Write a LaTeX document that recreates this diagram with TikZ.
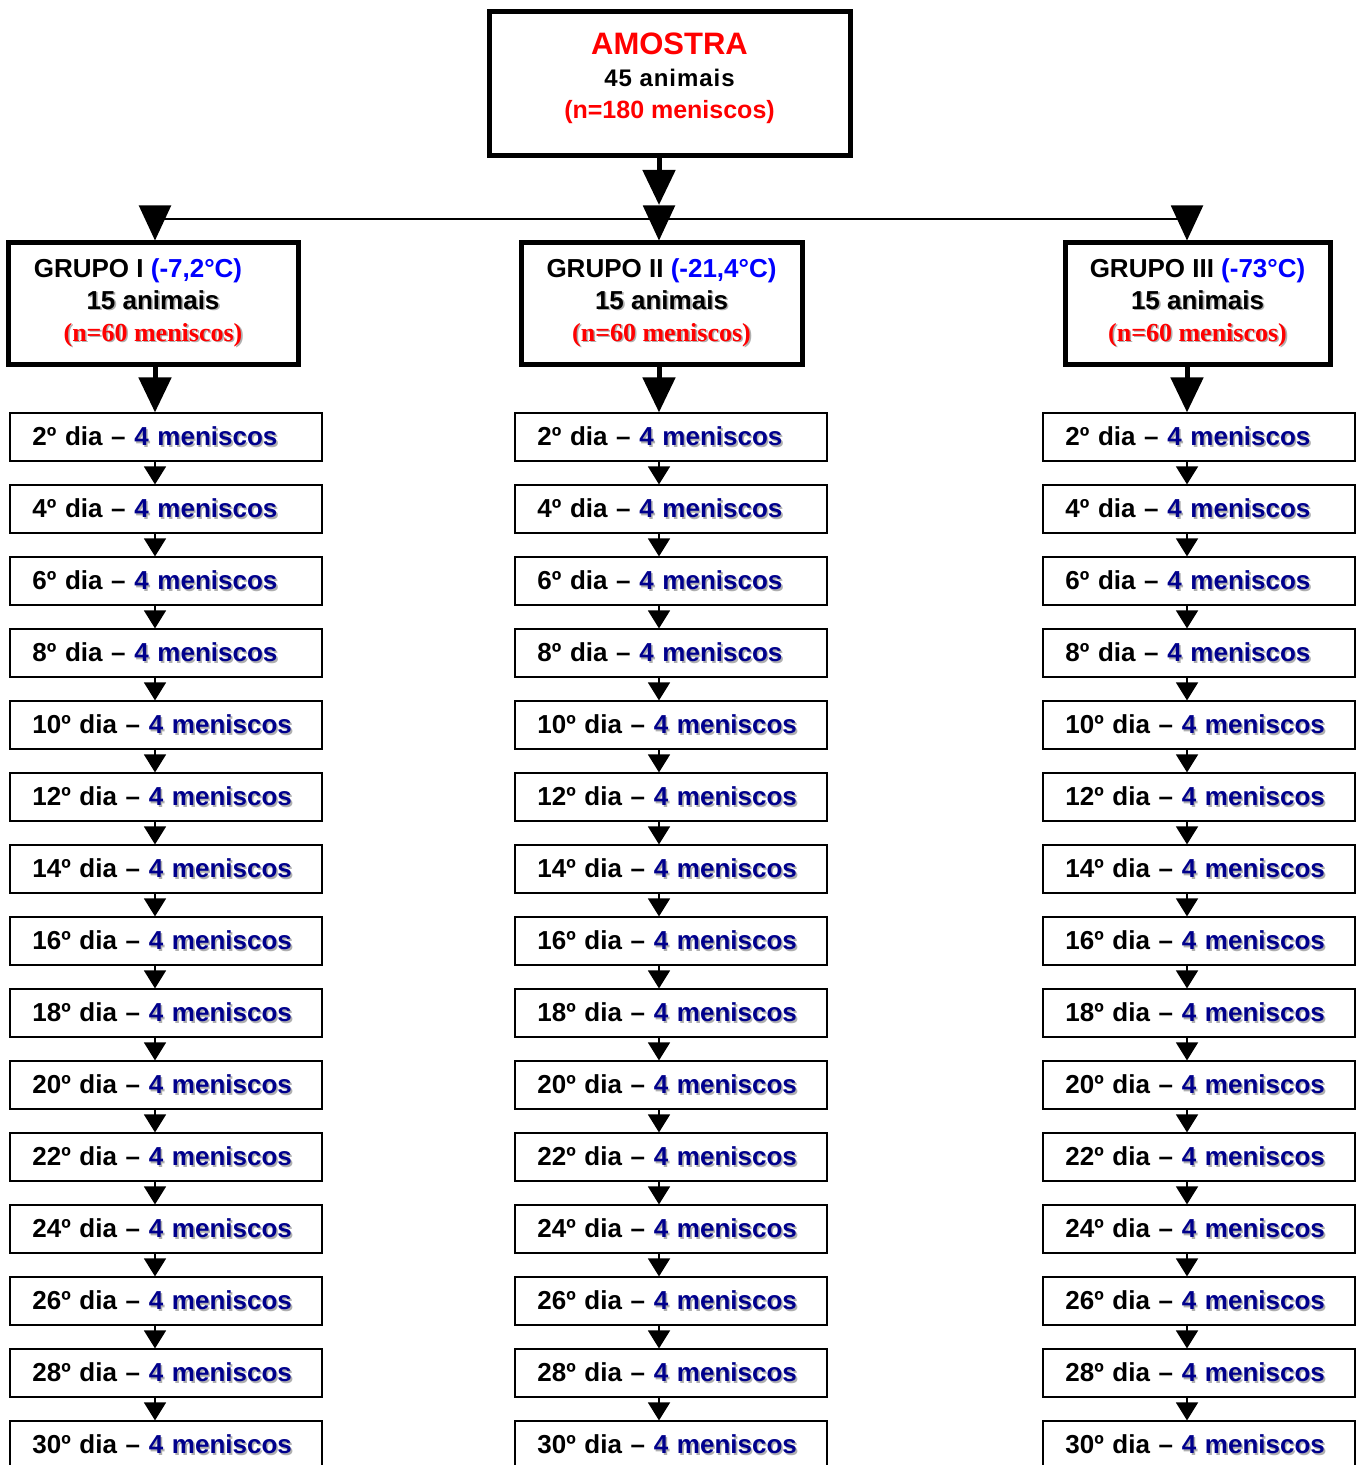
\documentclass[tikz,border=0pt]{standalone}
\usepackage{fontspec}
\setmainfont{Liberation Sans}
\newfontfamily\serifrm{Liberation Serif}
\usetikzlibrary{matrix,arrows.meta}

\definecolor{redtxt}{RGB}{255,0,0}
\definecolor{bluetxt}{RGB}{0,0,255}
\definecolor{navytxt}{RGB}{0,0,140}
\definecolor{shadowtxt}{RGB}{175,175,175}

\newcommand{\sombra}[2]{\rlap{\kern0.8pt\raisebox{-0.8pt}{\textcolor{shadowtxt}{#2}}}\textcolor{#1}{#2}}
\newcommand{\dia}[1]{#1º dia – \sombra{navytxt}{4 meniscos}}

\tikzset{
  bigbox/.style={draw, line width=2.5pt, align=center, inner sep=0pt, font=\bfseries\fontsize{13pt}{16pt}\selectfont},
  bigarrow/.style={-{Triangle[length=17.5pt,width=16pt]}, line width=2.5pt},
  smallarrow/.style={-{Triangle[length=9pt,width=11pt]}, line width=0.8pt}
}

\begin{document}
\begin{tikzpicture}[x=0.5pt, y=-0.5pt]
  \useasboundingbox (0,0) rectangle (1360,1465);
  \clip (0,0) rectangle (1360,1465);

  \node[bigbox, minimum width=180.5pt, minimum height=72pt] (amostra) at (669.5,84)
    {{\fontsize{15.5pt}{17pt}\selectfont\textcolor{redtxt}{AMOSTRA}}\\[0pt]
     {\fontsize{12pt}{16pt}\selectfont\addfontfeature{LetterSpace=4}45 animais}\\[0pt]
     {\fontsize{12.5pt}{16pt}\selectfont\textcolor{redtxt}{(n=180 meniscos)}}\\[-8pt]};

  \node[bigbox, minimum width=145pt, minimum height=60.5pt] (grupoI) at (153,303.5)
    {\hspace*{-15pt}GRUPO I \textcolor{bluetxt}{(-7,2°C)}\\ \sombra{black}{15 animais}\\ {\serifrm\sombra{redtxt}{(n=60 meniscos)}}};
  \node[bigbox, minimum width=140.5pt, minimum height=60.5pt] (grupoII) at (661.5,303.5)
    {GRUPO II \textcolor{bluetxt}{(-21,4°C)}\\ \sombra{black}{15 animais}\\ {\serifrm\sombra{redtxt}{(n=60 meniscos)}}};
  \node[bigbox, minimum width=132.5pt, minimum height=60.5pt] (grupoIII) at (1197.5,303.5)
    {GRUPO III \textcolor{bluetxt}{(-73°C)}\\ \sombra{black}{15 animais}\\ {\serifrm\sombra{redtxt}{(n=60 meniscos)}}};

  \matrix (dias) [matrix of nodes,
          ampersand replacement=\&,
          anchor=north west,
          inner sep=0pt,
          nodes={draw, line width=1pt, text width=134pt, inner xsep=11pt, inner ysep=0pt, minimum height=24pt, align=left, font=\bfseries\fontsize{13pt}{15pt}\selectfont},
          column sep=95.5pt,
          row sep=11pt] at (9,412) {
    \dia{2} \& \dia{2} \&[11.5pt] \dia{2} \\
    \dia{4} \& \dia{4} \& \dia{4} \\
    \dia{6} \& \dia{6} \& \dia{6} \\
    \dia{8} \& \dia{8} \& \dia{8} \\
    \dia{10} \& \dia{10} \& \dia{10} \\
    \dia{12} \& \dia{12} \& \dia{12} \\
    \dia{14} \& \dia{14} \& \dia{14} \\
    \dia{16} \& \dia{16} \& \dia{16} \\
    \dia{18} \& \dia{18} \& \dia{18} \\
    \dia{20} \& \dia{20} \& \dia{20} \\
    \dia{22} \& \dia{22} \& \dia{22} \\
    \dia{24} \& \dia{24} \& \dia{24} \\
    \dia{26} \& \dia{26} \& \dia{26} \\
    \dia{28} \& \dia{28} \& \dia{28} \\
    \dia{30} \& \dia{30} \& \dia{30} \\
  };

  % eixos das setas
  \coordinate (axI) at (155,219);
  \coordinate (axII) at (659,219);
  \coordinate (axIII) at (1187,219);
  \coordinate (topo) at (659,205);

  \draw[bigarrow] (amostra.south -| axII) -- (topo);
  \draw[line width=1pt] (axI) -- (axIII);
  \foreach \g/\a in {grupoI/axI, grupoII/axII, grupoIII/axIII}
    \draw[bigarrow, line width=1pt] (\a) -- (\g.north -| \a);
  \foreach \g/\a/\c in {grupoI/axI/1, grupoII/axII/2, grupoIII/axIII/3}
    \draw[bigarrow] (\g.south -| \a) -- (dias-1-\c.north -| \a);
  \foreach \c/\a in {1/axI, 2/axII, 3/axIII}
    \foreach \i [count=\j from 2] in {1,...,14}
      \draw[smallarrow] (dias-\i-\c.south -| \a) -- (dias-\j-\c.north -| \a);
\end{tikzpicture}
\end{document}
